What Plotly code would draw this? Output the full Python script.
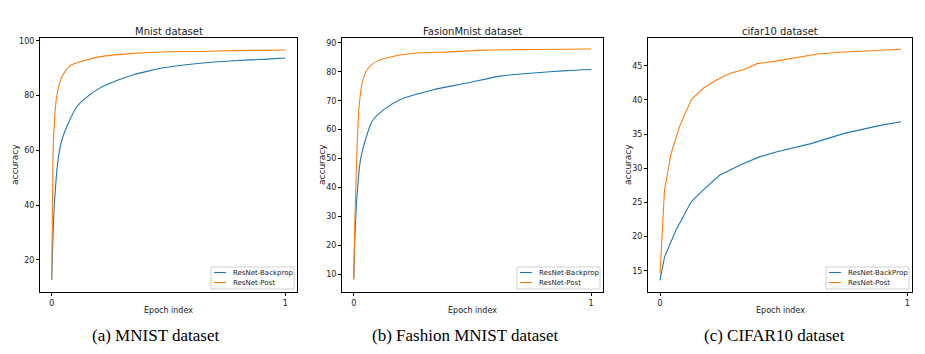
import plotly.graph_objects as go

# Mnist dataset (epoch fraction, accuracy)
mnist_bp_x = [0, 0.011, 0.029, 0.043, 0.064, 0.107, 0.15, 0.207, 0.279, 0.35, 0.421, 0.493, 0.636, 0.779, 0.921, 1.0]
mnist_bp_y = [12.7, 39.4, 57.6, 63.6, 68.5, 75.8, 79.4, 82.8, 85.5, 87.6, 89.1, 90.3, 91.8, 92.7, 93.3, 93.7]
mnist_post_x = [0, 0.004, 0.007, 0.021, 0.043, 0.079, 0.136, 0.207, 0.35, 0.493, 0.636, 0.779, 1.0]
mnist_post_y = [12.7, 45.0, 62.0, 79.4, 86.7, 90.9, 92.7, 94.2, 95.4, 96.0, 96.1, 96.4, 96.6]

# FasionMnist dataset
fashion_bp_x = [0, 0.003, 0.014, 0.028, 0.049, 0.077, 0.126, 0.196, 0.336, 0.477, 0.617, 0.757, 0.897, 1.0]
fashion_bp_y = [8.5, 20.0, 38.0, 49.6, 56.5, 62.9, 66.9, 70.4, 73.8, 76.1, 78.5, 79.6, 80.4, 80.8]
fashion_post_x = [0, 0.003, 0.011, 0.021, 0.035, 0.056, 0.098, 0.168, 0.266, 0.407, 0.547, 0.757, 1.0]
fashion_post_y = [8.0, 25.0, 47.3, 66.9, 76.1, 80.8, 83.7, 85.4, 86.5, 86.9, 87.5, 87.7, 87.9]

# cifar10 dataset
cifar_bp_x = [0, 0.018, 0.065, 0.126, 0.174, 0.242, 0.337, 0.405, 0.473, 0.61, 0.745, 0.881, 0.974]
cifar_bp_y = [13.6, 17.0, 21.0, 25.1, 26.8, 29.0, 30.7, 31.7, 32.4, 33.6, 35.1, 36.2, 36.8]
cifar_post_x = [0, 0.018, 0.045, 0.079, 0.126, 0.174, 0.229, 0.283, 0.337, 0.392, 0.473, 0.541, 0.637, 0.745, 0.881, 0.974]
cifar_post_y = [14.6, 26.8, 32.2, 36.1, 40.0, 41.7, 42.9, 43.9, 44.4, 45.3, 45.7, 46.1, 46.7, 47.0, 47.3, 47.4]

titles = ["Mnist dataset", "FasionMnist dataset", "cifar10 dataset"]
captions = ["(a) MNIST dataset", "(b) Fashion MNIST dataset", "(c) CIFAR10 dataset"]
bp_names = ["ResNet-Backprop", "ResNet-Backprop", "ResNet-BackProp"]
post_name = "ResNet-Post"
y_ticks = [[20, 40, 60, 80, 100], [10, 20, 30, 40, 50, 60, 70, 80, 90], [15, 20, 25, 30, 35, 40, 45]]
y_ranges = [[8.3, 101], [3.8, 91.7], [11.9, 49.05]]
x_ranges = [[-0.05, 1.05], [-0.05, 1.05], [-0.0487, 1.0187]]
# mnist-style runs were logged densely (smooth), cifar only at a few points
line_shapes = ["spline", "spline", "linear"]

series = [
    (mnist_bp_x, mnist_bp_y, mnist_post_x, mnist_post_y),
    (fashion_bp_x, fashion_bp_y, fashion_post_x, fashion_post_y),
    (cifar_bp_x, cifar_bp_y, cifar_post_x, cifar_post_y),
]

W, H = 925, 354
OFF = 8  # page body margin shifts the plot by this much
boxes = [(40, 297), (342, 603), (648, 912)]
ytitle_x = [15, 322, 628]
caption_x = [155, 465, 774]
top, bottom = 38, 292

BLUE = "#1f77b4"
ORANGE = "#ff7f0e"
FONT = "DejaVu Sans"
TXT = "#222"


def px(x):
    return (x - OFF) / W


def py(y):
    return 1 - (y - OFF) / H


fig = go.Figure()
annotations = []
shapes = []
layout = dict(
    width=W, height=H,
    margin=dict(l=0, r=0, t=0, b=0),
    paper_bgcolor="white", plot_bgcolor="white",
    font=dict(family=FONT, size=8, color=TXT),
    showlegend=False,
)

for i, (bx, by, pxs, pys) in enumerate(series):
    n = "" if i == 0 else str(i + 1)
    fig.add_trace(go.Scatter(x=bx, y=by, mode="lines", name=bp_names[i],
                             line=dict(color=BLUE, width=1.1, shape=line_shapes[i], smoothing=0.7),
                             xaxis="x" + n, yaxis="y" + n))
    fig.add_trace(go.Scatter(x=pxs, y=pys, mode="lines", name=post_name,
                             line=dict(color=ORANGE, width=1.1, shape=line_shapes[i], smoothing=0.7),
                             xaxis="x" + n, yaxis="y" + n))
    x0, x1 = boxes[i]
    axis_common = dict(showline=True, linecolor="black", linewidth=1, mirror=True,
                       showgrid=False, zeroline=False, ticks="outside", ticklen=3,
                       tickcolor="black", tickfont=dict(size=8, family=FONT, color=TXT),
                       automargin=False)
    layout["xaxis" + n] = dict(domain=[px(x0), px(x1)], range=x_ranges[i], tickvals=[0, 1],
                               anchor="y" + n, **axis_common)
    layout["yaxis" + n] = dict(domain=[py(bottom), py(top)], range=y_ranges[i], tickvals=y_ticks[i],
                               anchor="x" + n, **axis_common)

    cx = (x0 + x1) / 2
    # subplot title, axis titles, caption
    annotations.append(dict(text=titles[i], x=px(cx), y=py(31), xref="paper", yref="paper",
                            showarrow=False, xanchor="center", yanchor="middle",
                            font=dict(size=10, family=FONT, color=TXT)))
    annotations.append(dict(text="Epoch index", x=px(cx), y=py(310), xref="paper", yref="paper",
                            showarrow=False, xanchor="center", yanchor="middle",
                            font=dict(size=8, family=FONT, color=TXT)))
    annotations.append(dict(text="accuracy", x=px(ytitle_x[i]), y=py(165), xref="paper", yref="paper",
                            showarrow=False, textangle=-90, xanchor="center", yanchor="middle",
                            font=dict(size=9, family=FONT, color=TXT)))
    annotations.append(dict(text=captions[i], x=px(caption_x[i]), y=py(335), xref="paper", yref="paper",
                            showarrow=False, xanchor="center", yanchor="middle",
                            font=dict(size=17, family="Liberation Serif", color="black")))

    # legend box in the lower right corner
    lx0, lx1 = x1 - 86, x1 - 3
    ly0, ly1 = 267, 289
    shapes.append(dict(type="rect", xref="paper", yref="paper",
                       x0=px(lx0), x1=px(lx1), y0=py(ly1), y1=py(ly0),
                       line=dict(color="#d0d0d0", width=1), fillcolor="rgba(255,255,255,0.8)"))
    for name, color, yy in [(bp_names[i], BLUE, 272.5), (post_name, ORANGE, 282.5)]:
        shapes.append(dict(type="line", xref="paper", yref="paper",
                           x0=px(lx0 + 3), x1=px(lx0 + 15), y0=py(yy), y1=py(yy),
                           line=dict(color=color, width=1.1)))
        annotations.append(dict(text=name, x=px(lx0 + 20), y=py(yy), xref="paper", yref="paper",
                                showarrow=False, xanchor="left", yanchor="middle",
                                font=dict(size=7, family=FONT, color=TXT)))

layout["annotations"] = annotations
layout["shapes"] = shapes
fig.update_layout(**layout)
fig.write_html("out.html")
